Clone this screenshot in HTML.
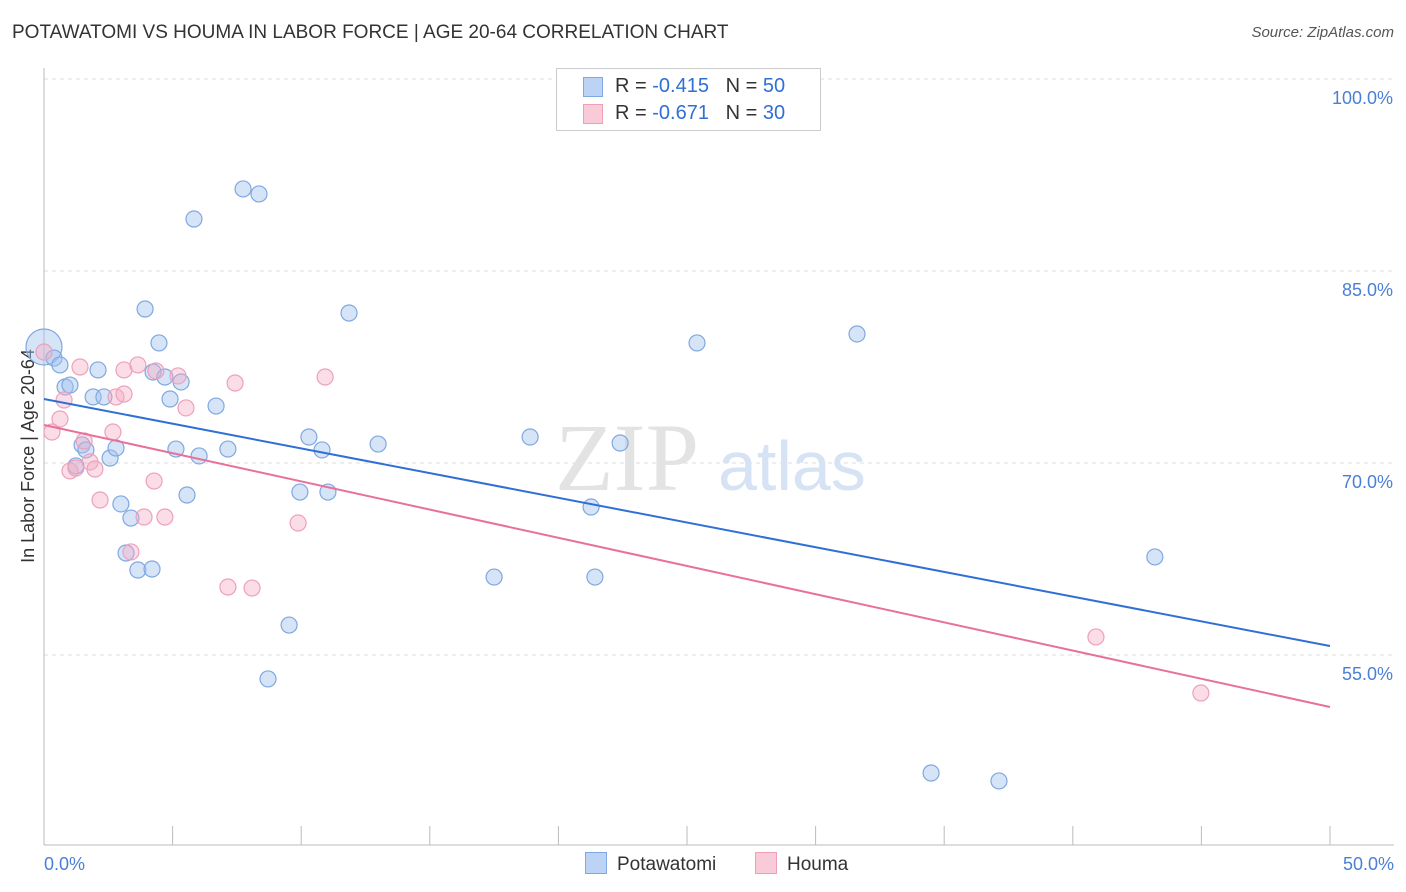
<!DOCTYPE html>
<html><head><meta charset="utf-8"><style>
body{margin:0;background:#fff;font-family:"Liberation Sans",sans-serif;}
#wrap{position:relative;width:1406px;height:892px;overflow:hidden;}
.t{position:absolute;white-space:nowrap;}
</style></head><body>
<div id="wrap">
<div class="t" style="left:12px;top:22px;font-size:19px;color:#333;">POTAWATOMI VS HOUMA IN LABOR FORCE | AGE 20-64 CORRELATION CHART</div>
<div class="t" style="right:12px;top:24px;font-size:15px;color:#555;font-style:italic;">Source: ZipAtlas.com</div>
<svg id="svg" width="1406" height="892" style="position:absolute;left:0;top:0"></svg>
</div>
<script>
const blueX=[0,0.39,0.62,0.82,1.01,2.10,1.91,2.33,3.93,4.47,4.24,4.70,5.33,4.90,6.69,5.83,7.74,8.36,11.86,1.48,1.63,2.57,2.80,1.24,5.13,6.03,7.15,2.99,3.38,5.56,3.19,3.65,4.20,10.30,10.81,9.95,11.04,12.99,9.53,8.71,18.90,22.40,21.27,17.50,21.42,25.39,31.61,43.19,34.49,37.13];
const blueY=[79.06,78.20,77.66,75.94,76.09,77.27,75.16,75.16,82.03,79.38,77.11,76.72,76.33,75.0,74.45,89.06,91.41,91.02,81.72,71.41,71.02,70.39,71.17,69.77,71.09,70.55,71.09,66.80,65.70,67.50,62.97,61.64,61.72,72.03,71.02,67.73,67.73,71.48,57.34,53.13,72.03,71.56,66.56,61.09,61.09,79.38,80.08,62.66,45.78,45.16];
const pinkX=[0,0.31,0.62,0.78,1.40,1.56,1.01,1.24,1.79,1.98,2.18,2.68,2.80,3.11,3.11,3.65,4.35,5.21,5.52,3.38,3.89,4.70,4.28,7.43,7.15,8.09,9.88,10.93,40.90,44.98];
const pinkY=[78.67,72.42,73.44,74.92,77.50,71.72,69.38,69.61,70.08,69.53,67.11,72.42,75.16,75.39,77.27,77.66,77.19,76.80,74.30,63.05,65.78,65.78,68.59,76.25,60.31,60.23,65.31,76.72,56.41,52.03];
const blueTrend=[75.0,55.70];
const pinkTrend=[72.97,50.94];
const yTicks=[100,85,70,55];
const yTickLabels=["100.0%","85.0%","70.0%","55.0%"];
const xTickLabels=["0.0%","50.0%"];

const X=v=>44+v/50*1286;
const Y=v=>79+(100-v)*12.8;
const svg=document.getElementById('svg');
const NS='http://www.w3.org/2000/svg';
function mk(tag,a,parent){const e=document.createElementNS(NS,tag);for(const k in a)e.setAttribute(k,a[k]);(parent||svg).appendChild(e);return e;}

yTicks.forEach((v,i)=>{
 const g=mk('line',{x1:44,x2:1394,y1:Y(v),y2:Y(v),stroke:'#ddd','stroke-dasharray':'4,4'});
 
 
 const t=mk('text',{x:1393,y:Y(v)+25,'text-anchor':'end','font-size':18,fill:'#4a7fd6','font-family':'Liberation Sans, sans-serif'});
 t.textContent=yTickLabels[i];
 
 
});
let ax=mk('line',{x1:44,x2:44,y1:68,y2:845,stroke:'#bbb'});


ax=mk('line',{x1:44,x2:1394,y1:845,y2:845,stroke:'#bbb'});


for(let i=0;i<=10;i++){
 const tk=mk('line',{x1:X(i*5),x2:X(i*5),y1:826,y2:845,stroke:'#bbb'});
 
 
}
[[0,'start',44],[1,'end',1394]].forEach(([i,an,x])=>{
 const t=mk('text',{x:x,y:870,'text-anchor':an,'font-size':18,fill:'#4a7fd6','font-family':'Liberation Sans, sans-serif'});
 t.textContent=xTickLabels[i];
 
 
});
let yt=mk('text',{x:34,y:456,'text-anchor':'middle','font-size':18,fill:'#333',transform:'rotate(-90 34 456)','font-family':'Liberation Sans, sans-serif'});
yt.textContent='In Labor Force | Age 20-64';


// watermark
let wm=mk('text',{x:555,y:490,'font-size':96,fill:'#e3e3e3','font-family':'Liberation Serif, serif'});
wm.textContent='ZIP';


wm=mk('text',{x:718,y:490,'font-size':70,fill:'#d6e3f5','font-family':'Liberation Sans, sans-serif'});
wm.textContent='atlas';



blueX.forEach((x,i)=>{
 const c=mk('circle',{cx:X(x),cy:Y(blueY[i]),r:i===0?18:8,fill:'rgba(164,196,240,0.45)',stroke:'#7fa8e0','stroke-width':1.2});
 
 
});
pinkX.forEach((x,i)=>{
 const c=mk('circle',{cx:X(x),cy:Y(pinkY[i]),r:8,fill:'rgba(244,170,195,0.4)',stroke:'#eea0bb','stroke-width':1.2});
 
 
});
let l=mk('line',{x1:X(0),y1:Y(blueTrend[0]),x2:X(50),y2:Y(blueTrend[1]),stroke:'#2f6fd6','stroke-width':2});


l=mk('line',{x1:X(0),y1:Y(pinkTrend[0]),x2:X(50),y2:Y(pinkTrend[1]),stroke:'#e8709a','stroke-width':2});


</script>
<div class="t" style="left:556px;top:68px;width:263px;height:61px;border:1px solid #ccc;background:#fff;font-size:20px;color:#333;">
 <div style="position:absolute;left:26px;top:8px;width:18px;height:18px;background:#bcd3f5;border:1px solid #7fa8e0;"></div>
 <div style="position:absolute;left:58px;top:6px;">R = <span style="color:#2f6fd6">-0.415</span>&nbsp;&nbsp;&nbsp;N = <span style="color:#2f6fd6">50</span></div>
 <div style="position:absolute;left:26px;top:35px;width:18px;height:18px;background:#f9cbd9;border:1px solid #eea0bb;"></div>
 <div style="position:absolute;left:58px;top:33px;">R = <span style="color:#2f6fd6">-0.671</span>&nbsp;&nbsp;&nbsp;N = <span style="color:#2f6fd6">30</span></div>
</div>
<div class="t" style="left:585px;top:852px;font-size:19px;color:#333;"><span style="display:inline-block;width:20px;height:20px;background:#bcd3f5;border:1px solid #7fa8e0;vertical-align:-4px;margin-right:10px;"></span>Potawatomi</div>
<div class="t" style="left:755px;top:852px;font-size:19px;color:#333;"><span style="display:inline-block;width:20px;height:20px;background:#f9cbd9;border:1px solid #eea0bb;vertical-align:-4px;margin-right:10px;"></span>Houma</div>
</body></html>
